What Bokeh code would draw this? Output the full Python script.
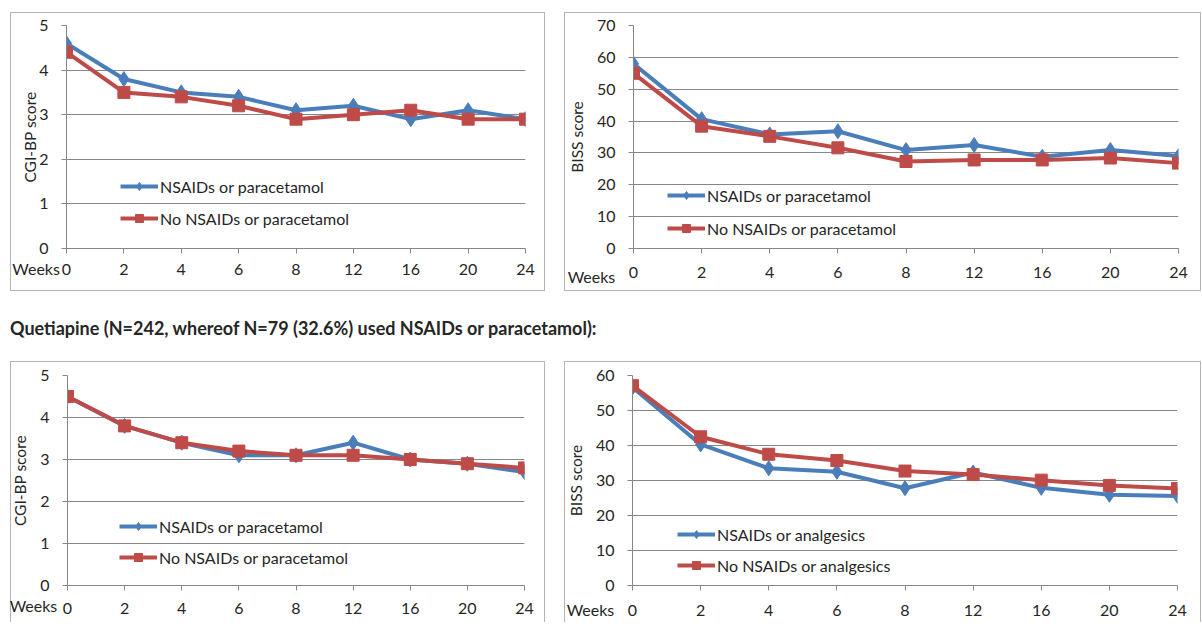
from bokeh.plotting import figure
from bokeh.layouts import column, row
from bokeh.models import Spacer, Div, FixedTicker, LinearAxis
from bokeh.embed import file_html
from bokeh.resources import INLINE

# ---------------- data ----------------
weeks = ["0", "2", "4", "6", "8", "12", "16", "20", "24"]
x_title = "Weeks"

cgi_ticks = [0, 1, 2, 3, 4, 5]
biss_ticks_top = [0, 10, 20, 30, 40, 50, 60, 70]
biss_ticks_bottom = [0, 10, 20, 30, 40, 50, 60]

# Panel 1: CGI-BP (top-left)
cgi1_nsaid = [4.6, 3.8, 3.5, 3.4, 3.1, 3.2, 2.9, 3.1, 2.9]
cgi1_no = [4.4, 3.5, 3.4, 3.2, 2.9, 3.0, 3.1, 2.9, 2.9]
# Panel 2: BISS (top-right)
biss1_nsaid = [58.0, 40.6, 35.8, 36.8, 30.9, 32.5, 28.8, 30.9, 29.0]
biss1_no = [55.0, 38.4, 35.2, 31.6, 27.3, 27.8, 27.8, 28.4, 26.8]
# Panel 3: CGI-BP (bottom-left, quetiapine)
cgi2_nsaid = [4.5, 3.8, 3.4, 3.1, 3.1, 3.4, 3.0, 2.9, 2.7]
cgi2_no = [4.5, 3.8, 3.4, 3.2, 3.1, 3.1, 3.0, 2.9, 2.8]
# Panel 4: BISS (bottom-right, quetiapine)
biss2_nsaid = [56.6, 40.3, 33.5, 32.5, 27.8, 32.3, 27.9, 25.9, 25.6]
biss2_no = [57.1, 42.5, 37.5, 35.7, 32.7, 31.7, 30.1, 28.6, 27.7]

labels_para = ["NSAIDs or paracetamol", "No NSAIDs or paracetamol"]
labels_anal = ["NSAIDs or analgesics", "No NSAIDs or analgesics"]

title_text = "Quetiapine (N=242, whereof N=79 (32.6%) used NSAIDs or paracetamol):"

# ---------------- style ----------------
BLUE = "#4A7EBB"
RED = "#BE4B48"
GRID = "#868686"
TXT = "#262626"
FONT = "Lato"
FRAME = "#b4b4b4"
EM = "\u2003"   # em space
QS = "\u2005"   # four-per-em space


def make_panel(w, h, y_ticks, y_label, s1, s2, labels, mb, ylab_standoff,
               xlab_standoff, weeks_pad, weeks_dy, legend_loc, legend_spacing, shadow):
    x = list(range(len(weeks)))
    p = figure(width=w, height=h, output_backend="svg", toolbar_location=None,
               x_range=(0, len(weeks) - 1), y_range=(y_ticks[0], y_ticks[-1]),
               min_border_left=mb[0], min_border_right=mb[1],
               min_border_top=mb[2], min_border_bottom=mb[3],
               background_fill_color="white", border_fill_color="white",
               border_fill_alpha=0, outline_line_color=None,
               styles={"box-shadow": shadow})
    p.line(x, s1, color=BLUE, line_width=4, legend_label=labels[0])
    p.scatter(x, s1, marker="diamond", size=15, color=BLUE, legend_label=labels[0])
    p.line(x, s2, color=RED, line_width=4, legend_label=labels[1])
    p.scatter(x, s2, marker="square", size=12, color=RED, legend_label=labels[1])

    p.xgrid.grid_line_color = None
    p.ygrid.grid_line_color = GRID
    p.ygrid.ticker = FixedTicker(ticks=y_ticks)

    xa = p.xaxis[0]
    xa.ticker = FixedTicker(ticks=x)
    xa.major_label_overrides = {i: lab for i, lab in zip(x, weeks)}
    ya = p.yaxis[0]
    ya.ticker = FixedTicker(ticks=y_ticks)
    ya.axis_label = y_label
    ya.axis_label_text_font = FONT
    ya.axis_label_text_font_size = "15.5px"
    ya.axis_label_text_font_style = "normal"
    ya.axis_label_text_color = TXT
    ya.axis_label_standoff = ylab_standoff
    ya.major_label_standoff = 13
    xa.major_label_standoff = xlab_standoff
    for ax in (xa, ya):
        ax.axis_line_color = GRID
        ax.major_tick_line_color = GRID
        ax.major_tick_out = 5
        ax.major_tick_in = 0
        ax.minor_tick_line_color = None
        ax.major_label_text_font = FONT
        ax.major_label_text_font_size = "16px"
        ax.major_label_text_color = TXT

    # "Weeks" caption to the left of the first category, lifted onto the tick-label row
    wk = LinearAxis(ticker=FixedTicker(ticks=[x[0]]),
                    major_label_overrides={x[0]: x_title + weeks_pad},
                    axis_line_color=None, major_tick_line_color=None,
                    minor_tick_line_color=None, major_tick_out=0, major_tick_in=0,
                    minor_tick_out=0, minor_tick_in=0,
                    major_label_standoff=-19 + weeks_dy,
                    major_label_text_font=FONT, major_label_text_font_size="16px",
                    major_label_text_color=TXT)
    p.add_layout(wk, "below")

    lg = p.legend[0]
    lg.location = legend_loc
    lg.border_line_color = None
    lg.background_fill_alpha = 0
    lg.padding = 0
    lg.margin = 0
    lg.spacing = legend_spacing
    lg.glyph_width = 38
    lg.glyph_height = 20
    lg.label_height = 20
    lg.label_standoff = 2
    lg.label_text_font = FONT
    lg.label_text_font_size = "16px"
    lg.label_text_color = TXT
    return p


def inset_left(d):
    # draws a 1px frame line d px inside the left edge of the element
    return f"inset {d}px 0 0 0 white, inset {d + 1}px 0 0 0 {FRAME}"


def top_from(d, sign=-1):
    # 1px line above (sign=-1) or below (sign=1) the element starting d px from its left
    ox = (d + 1) // 2
    c = (d - 1) // 2
    oy = sign * (c + 1)
    return f"{ox}px {oy}px 0 -{c}px {FRAME}"


sh1 = f"0 0 0 1px {FRAME}"
sh2 = ", ".join([inset_left(5), top_from(5, -1), top_from(5, 1)])
sh3 = ", ".join([inset_left(7), top_from(7, -1), f"1px 0 0 0 {FRAME}"])
sh4 = ", ".join([inset_left(5), top_from(5, -1), f"1px 0 0 0 {FRAME}"])

p1 = make_panel(533, 277, cgi_ticks, "CGI-BP score", cgi1_nsaid, cgi1_no, labels_para,
                (55, 19, 12, 42), -3, 10, EM * 5 + QS, 0, (54, 20), 12, sh1)
p2 = make_panel(641, 277, biss_ticks_top, "BISS score", biss1_nsaid, biss1_no, labels_para,
                (74, 22, 12, 42), 8, 13, EM * 7, 5, (34, 10), 13, sh2)
p3 = make_panel(541, 260, cgi_ticks, "CGI-BP score", cgi2_nsaid, cgi2_no, labels_para,
                (64, 20, 9, 37), 8, 12, EM * 5 + QS * 2, -2, (52, 18), 11, sh3)
p4 = make_panel(641, 260, biss_ticks_bottom, "BISS score", biss2_nsaid, biss2_no, labels_anal,
                (73, 23, 13, 35), 8, 14, EM * 7, 0, (45, 10), 11, sh4)

div = Div(text=f'<div style="margin-top:28px; margin-left:10px; font-family:{FONT}; '
               f'font-weight:bold; font-size:18px; line-height:20px; color:{TXT}; '
               f'white-space:nowrap">{title_text}</div>',
          width=1200, height=72, margin=(0, 0, 0, 0))

layout = column(
    Spacer(height=13),
    row(Spacer(width=11), p1, Spacer(width=15), p2),
    div,
    row(Spacer(width=3), p3, Spacer(width=15), p4),
)

open("out.html", "w").write(file_html(layout, INLINE))
